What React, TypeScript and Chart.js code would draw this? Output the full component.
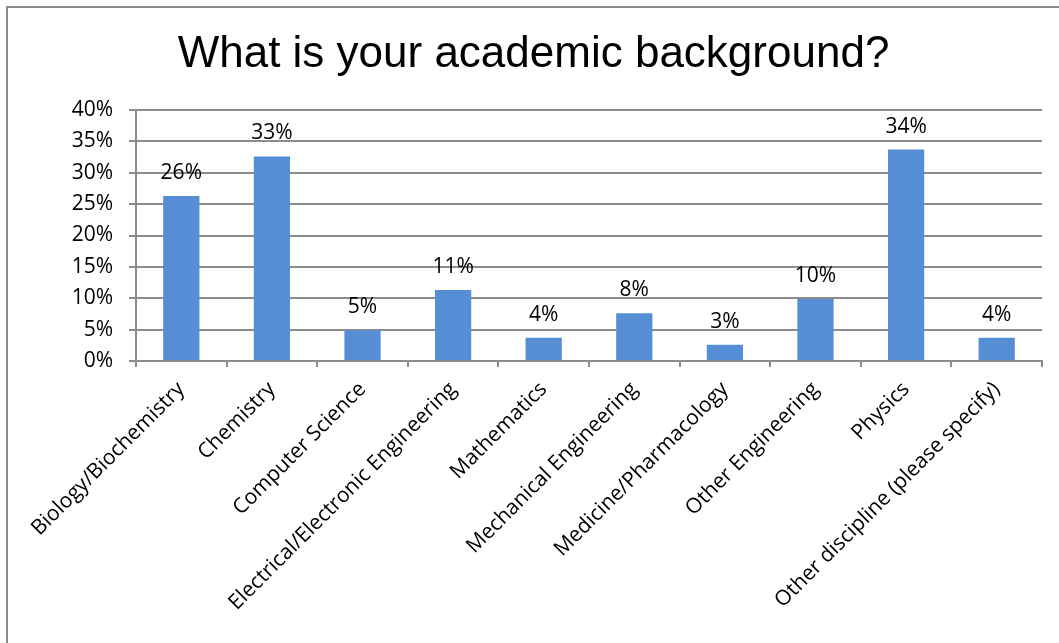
import React, { useEffect, useRef } from "react";
import { Chart, registerables } from "chart.js";

Chart.register(...registerables);

const categories = [
  "Biology/Biochemistry",
  "Chemistry",
  "Computer Science",
  "Electrical/Electronic Engineering",
  "Mathematics",
  "Mechanical Engineering",
  "Medicine/Pharmacology",
  "Other Engineering",
  "Physics",
  "Other discipline (please specify)",
];

const values = [26.3, 32.6, 4.9, 11.3, 3.7, 7.6, 2.6, 9.9, 33.7, 3.7];

const yMin = 0;
const yMax = 40;
const yStep = 5;

const titleText = "What is your academic background?";

const BAR_COLOR = "#558ED5";
const GRID_COLOR = "#8c8c8c";
const TEXT_FONT = '"Open Sans", "DejaVu Sans", sans-serif';

const dataLabelPlugin = {
  id: "dataLabels",
  afterDatasetsDraw(chart: any) {
    const ctx = chart.ctx;
    const meta = chart.getDatasetMeta(0);
    ctx.save();
    ctx.font = `21px ${TEXT_FONT}`;
    ctx.fillStyle = "#000";
    ctx.textAlign = "center";
    ctx.textBaseline = "alphabetic";
    meta.data.forEach((bar: any, i: number) => {
      ctx.fillText(Math.round(values[i]) + "%", bar.x, bar.y - 17);
    });
    ctx.restore();
  },
};

export default function App() {
  const canvasRef = useRef<HTMLCanvasElement | null>(null);

  useEffect(() => {
    if (!canvasRef.current) return;
    const chart = new Chart(canvasRef.current, {
      type: "bar",
      data: {
        labels: categories,
        datasets: [
          {
            data: values,
            backgroundColor: BAR_COLOR,
            borderWidth: 0,
            barPercentage: 0.4,
            categoryPercentage: 1.0,
          },
        ],
      },
      options: {
        animation: false,
        responsive: false,
        devicePixelRatio: 1,
        layout: { padding: 0 },
        plugins: {
          legend: { display: false },
          tooltip: { enabled: false },
          title: {
            display: true,
            text: titleText,
            color: "#000",
            font: { family: '"Liberation Sans", Arial, sans-serif', size: 44, weight: "normal" },
            padding: { top: 20.6, bottom: 28.6 },
          },
        },
        scales: {
          x: {
            grid: {
              display: true,
              drawOnChartArea: false,
              drawTicks: true,
              tickLength: 6,
              color: GRID_COLOR,
              lineWidth: 2,
              offset: true,
            },
            border: { display: true, color: GRID_COLOR, width: 2 },
            ticks: {
              autoSkip: false,
              minRotation: 45,
              maxRotation: 45,
              padding: 10,
              color: "#000",
              font: { family: TEXT_FONT, size: 21 },
            },
            afterFit(s: any) {
              s.height = 282;
              s.paddingLeft = 0;
              s.paddingRight = 17;
            },
          },
          y: {
            min: yMin,
            max: yMax,
            grid: {
              color: GRID_COLOR,
              lineWidth: 2,
              drawTicks: true,
              tickLength: 7,
            },
            border: { display: true, color: GRID_COLOR, width: 2 },
            ticks: {
              stepSize: yStep,
              padding: 16,
              color: "#000",
              font: { family: TEXT_FONT, size: 21 },
              callback: (v: any) => v + "%",
            },
            afterFit(s: any) {
              s.width = 128;
              s.paddingTop = 0;
              s.paddingBottom = 0;
            },
          },
        },
      },
      plugins: [dataLabelPlugin],
    });
    return () => chart.destroy();
  }, []);

  return (
    <div
      style={{
        position: "fixed",
        left: 0,
        top: 0,
        width: 1059,
        height: 643,
        overflow: "hidden",
        background: "#fff",
      }}
    >
      <div
        style={{
          position: "absolute",
          left: 6,
          top: 6,
          width: 1053,
          height: 637,
          borderTop: "2px solid #8a8a8a",
          borderLeft: "2px solid #8a8a8a",
          boxSizing: "border-box",
        }}
      />
      <canvas
        ref={canvasRef}
        width={1051}
        height={635}
        style={{ position: "absolute", left: 8, top: 8, width: 1051, height: 635 }}
      />
    </div>
  );
}
